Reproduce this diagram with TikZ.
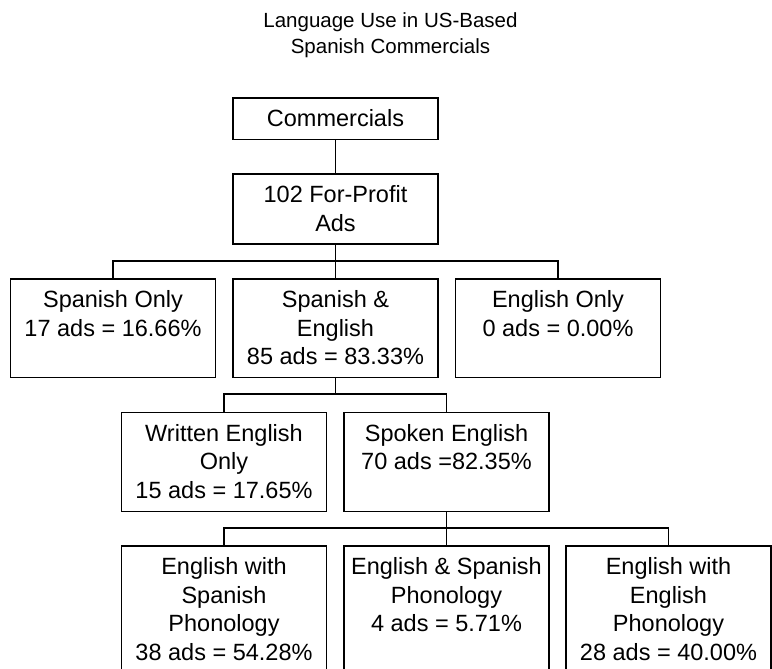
\documentclass[tikz,border=0pt]{standalone}
\usepackage{fontspec}
\setmainfont{Liberation Sans}

% top-aligned text in a box of fixed size
\newcommand{\boxtext}[2]{\parbox[t][#1][t]{205pt}{\centering\rule{0pt}{29pt}#2}}

\tikzset{
  box/.style={draw=black, line width=1.6pt, inner sep=0pt, anchor=north,
    font=\fontsize{23.5}{28.4}\selectfont},
  link/.style={draw=black, line width=1.6pt},
  heading/.style={align=center, inner sep=0pt, font=\fontsize{20.5}{26}\selectfont},
}

\begin{document}
\begin{tikzpicture}[x=1pt, y=-1pt]
  \useasboundingbox (0,0) rectangle (772,669);
  \clip (0,0) rectangle (772,669);

  \node[heading] (title) at (390.5,35) {Language Use in US-Based\\Spanish Commercials};

  \node[box] (comm) at (335.5,97) {\boxtext{41.5pt}{Commercials}};
  \node[box] (profit) at (335.5,173) {\boxtext{70pt}{102 For-Profit\\Ads}};

  % second row
  \node[box] (spanish) at (113,278) {\boxtext{98.5pt}{Spanish Only\\17 ads = 16.66\%}};
  \node[box] (both) at (335.5,278) {\boxtext{98.5pt}{Spanish \&\\English\\85 ads = 83.33\%}};
  \node[box] (english) at (558,278) {\boxtext{98.5pt}{English Only\\0 ads = 0.00\%}};

  % third row
  \node[box] (written) at (224,411.7) {\boxtext{99pt}{Written English\\Only\\15 ads = 17.65\%}};
  \node[box] (spoken) at (446.5,411.7) {\boxtext{99pt}{Spoken English\\70 ads =82.35\%}};

  % fourth row, cut off by the lower edge
  \node[box] (engspa) at (224,545) {\boxtext{140pt}{English with\\Spanish\\Phonology\\38 ads = 54.28\%}};
  \node[box] (engand) at (446.5,545) {\boxtext{140pt}{English \& Spanish\\Phonology\\4 ads = 5.71\%}};
  \node[box] (engeng) at (668.5,545) {\boxtext{140pt}{English with\\English\\Phonology\\28 ads = 40.00\%}};

  \coordinate (bus1) at (335.5,261);
  \coordinate (bus2) at (335.5,394);
  \coordinate (bus3) at (446.5,528);

  \draw[link] (comm) -- (profit);
  \draw[link] (profit.south) -- (bus1);
  \draw[link] (spanish.north) |- (bus1) -| (english.north);
  \draw[link] (both.north) -- (bus1);

  \draw[link] (both.south) -- (bus2);
  \draw[link] (written.north) |- (bus2) -| (spoken.north);

  \draw[link] (spoken.south) -- (bus3);
  \draw[link] (engspa.north) |- (bus3) -| (engeng.north);
  \draw[link] (engand.north) -- (bus3);

\end{tikzpicture}
\end{document}
